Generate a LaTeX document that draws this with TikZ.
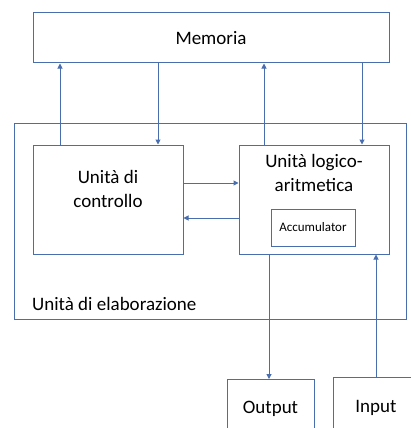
\documentclass[tikz,border=0pt]{standalone}
\usepackage{fontspec}
\setmainfont{Carlito}
\usetikzlibrary{arrows.meta}
\definecolor{ln}{RGB}{72,110,176}
\begin{document}
\begin{tikzpicture}[x=1pt,y=-1pt,
  box/.style={draw=ln,line width=1pt,fill=white,inner sep=0pt,align=center,font=\fontsize{19}{24}\selectfont},
  arr/.style={draw=ln,line width=1pt,-{Triangle[width=5pt,length=5pt]}}]
\clip (0,0) rectangle (411,428);
\useasboundingbox (0,0) rectangle (411,428);
\fill[white] (0,0) rectangle (411,428);
\node[box,minimum width=356pt,minimum height=50pt] (mem) at (211,38) {Memoria};
\node[box,minimum width=392pt,minimum height=196pt] (outer) at (210,221) {};
\node[font=\fontsize{19}{24}\selectfont,anchor=base west,inner sep=0pt] (lab) at (32,310) {Unità di elaborazione};
\node[box,minimum width=150pt,minimum height=109pt] (ctrl) at (108,199.5) {};
\node[font=\fontsize{19}{24}\selectfont,align=center] (ctrlt) at (108,189) {Unità di\\controllo};
\node[box,minimum width=150pt,minimum height=109pt] (alu) at (314,199.5) {};
\node[font=\fontsize{19}{24}\selectfont,align=center] (alut) at (314,173) {Unità logico-\\aritmetica};
\node[box,minimum width=84pt,minimum height=37pt,font=\fontsize{13}{15}\selectfont] (acc) at (313,227.5) {Accumulator};
\node[box,minimum width=87pt,minimum height=61pt,anchor=north west] (out) at (227,379) {};
\node[font=\fontsize{19}{24}\selectfont,anchor=base] (outt) at (270.5,413) {Output};
\node[box,minimum width=87pt,minimum height=63pt,anchor=north west] (in) at (333,377) {};
\node[font=\fontsize{19}{24}\selectfont,anchor=base] (int) at (376,412) {Input};
\draw[arr] (60,0 |- ctrl.north) -- (60,0 |- mem.south);
\draw[arr] (158,0 |- mem.south) -- (158,0 |- ctrl.north);
\draw[arr] (264,0 |- alu.north) -- (264,0 |- mem.south);
\draw[arr] (362,0 |- mem.south) -- (362,0 |- alu.north);
\draw[arr] (ctrl.east |- 0,183) -- (alu.west |- 0,183);
\draw[arr] (alu.west |- 0,218) -- (ctrl.east |- 0,218);
\draw[arr] (269,0 |- alu.south) -- (269,0 |- out.north);
\draw[arr] (376,0 |- in.north) -- (376,0 |- alu.south);
\end{tikzpicture}
\end{document}
